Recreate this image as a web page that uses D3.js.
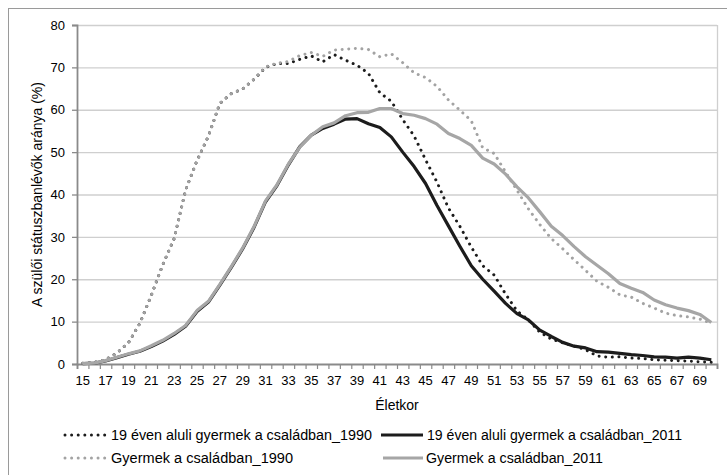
<!DOCTYPE html>
<html><head><meta charset="utf-8">
<script src="https://cdn.jsdelivr.net/npm/d3@7"></script>
<style>body{margin:0;background:#fff}svg{display:block}text{font-family:"Liberation Sans",Arial,sans-serif;fill:#000}</style>
</head><body><svg id="c" width="727" height="475"></svg>
<script>
const ages = d3.range(15, 71);
const xLabels = d3.range(15, 70, 2);
const yTicks = [0,10,20,30,40,50,60,70,80];
const seriesNames = ["19 éven aluli gyermek a családban_1990","19 éven aluli gyermek a családban_2011","Gyermek a családban_1990","Gyermek a családban_2011"];
const under19_1990 = [0.2,0.4,1.0,2.6,5.0,9.6,16.2,23.4,29.6,41.0,48.0,53.8,61.5,63.8,64.9,67.2,70.0,70.9,70.9,71.9,72.7,71.3,73.0,71.7,70.5,68.6,64.0,62.0,57.7,53.8,48.2,42.9,36.8,32.5,27.6,23.2,21.0,16.5,12.5,10.4,7.5,5.9,5.0,4.2,3.4,1.9,1.6,1.7,1.4,1.3,1.0,0.9,0.8,0.7,0.5,0.4];
const under19_2011 = [0.1,0.2,0.7,1.5,2.3,3.0,4.1,5.4,7.0,8.9,12.4,14.6,18.6,22.8,27.2,32.3,38.3,42.1,47.0,51.3,54.0,55.6,56.6,57.8,57.9,56.7,55.8,53.6,50.0,46.6,42.6,37.4,32.6,27.8,23.2,20.0,17.2,14.3,11.9,10.4,8.0,6.5,5.1,4.2,3.8,2.9,2.8,2.5,2.2,2.0,1.7,1.6,1.4,1.6,1.4,1.0];
const all_1990 = [0.2,0.4,1.0,2.6,5.0,9.6,16.2,23.4,29.6,41.0,48.0,53.8,61.5,63.8,64.9,67.2,70.1,71.0,71.4,72.8,73.5,72.6,74.1,74.3,74.5,74.2,72.5,73.2,71.1,68.7,67.6,65.5,62.3,59.9,57.4,51.0,49.7,45.3,41.0,36.6,32.9,29.6,27.2,24.6,22.1,19.5,18.1,16.3,15.8,14.3,13.2,12.0,11.4,11.1,10.6,9.6];
const all_2011 = [0.1,0.2,0.8,1.6,2.4,3.1,4.3,5.6,7.2,9.1,12.6,14.8,18.8,23.0,27.4,32.5,38.5,42.3,47.2,51.2,54.0,56.0,56.9,58.6,59.3,59.4,60.3,60.3,59.1,58.7,57.9,56.6,54.4,53.2,51.6,48.6,47.2,44.8,41.8,39.2,35.9,32.5,30.3,27.7,25.3,23.3,21.3,19.0,17.9,16.9,15.1,14.0,13.2,12.6,11.7,9.8];

const styles = [
  {color:"#1c1c1c", dash:true},
  {color:"#1c1c1c", dash:false},
  {color:"#a3a3a3", dash:true},
  {color:"#a6a6a6", dash:false}
];
const data = [under19_1990, under19_2011, all_1990, all_2011];

const svg = d3.select("#c");
svg.append("rect").attr("x",8.5).attr("y",8.5).attr("width",730).attr("height",480)
  .attr("fill","none").attr("stroke","#9a9a9a").attr("stroke-width",1);

const L=77, R=717, T=25, B=364;
const x = d3.scaleBand().domain(ages).range([L,R]).padding(0);
const xEdge = d3.scaleLinear().domain([15,71]).range([L,R]);
const y = d3.scaleLinear().domain([0,80]).range([B,T]);

// gridlines
svg.append("g").attr("transform",`translate(${L},0)`)
  .call(d3.axisLeft(y).tickValues(yTicks.slice(1)).tickSize(-(R-L)).tickFormat(""))
  .call(g=>{g.select(".domain").remove(); g.selectAll("line").attr("stroke","#cfcfcf").attr("stroke-width",1.3);});
// plot right border
svg.append("line").attr("x1",R+0.5).attr("x2",R+0.5).attr("y1",T).attr("y2",B).attr("stroke","#cfcfcf").attr("stroke-width",1.3);

// y axis
svg.append("g").attr("transform",`translate(${L},0)`)
  .call(d3.axisLeft(y).tickValues(yTicks).tickSize(5).tickPadding(7))
  .call(g=>{g.select(".domain").attr("stroke","#8a8a8a").attr("stroke-width",1.8);
    g.selectAll("line").attr("stroke","#8a8a8a").attr("stroke-width",1.3);
    g.selectAll("text").attr("font-size",13).attr("font-family","Liberation Sans, Arial");});

// x axis tick marks at boundaries
svg.append("g").attr("transform",`translate(0,${B})`)
  .call(d3.axisBottom(xEdge).tickValues(d3.range(15,72)).tickSize(5).tickFormat(""))
  .call(g=>{g.select(".domain").attr("stroke","#8a8a8a").attr("stroke-width",1.8);
    g.selectAll("line").attr("stroke","#8a8a8a").attr("stroke-width",1.2);});
// x labels
svg.append("g").attr("transform",`translate(0,${B})`)
  .call(d3.axisBottom(x).tickValues(xLabels).tickSize(0).tickPadding(12))
  .call(g=>{g.select(".domain").remove();
    g.selectAll("text").attr("font-size",13).attr("font-family","Liberation Sans, Arial");});

// lines
const line = d3.line().x((d,i)=>x(ages[i])+x.bandwidth()/2).y(d=>y(d));
data.forEach((vals,k)=>{
  const s = styles[k];
  const p = svg.append("path").datum(vals).attr("d",line).attr("fill","none")
    .attr("stroke",s.color).attr("stroke-linejoin","round");
  if(s.dash) p.attr("stroke-width",3).attr("stroke-dasharray","0.01 6.6").attr("stroke-linecap","round");
  else p.attr("stroke-width",3.2);
});

// axis titles
svg.append("text").attr("x",(L+R)/2).attr("y",410).attr("text-anchor","middle").attr("font-size",14).text("Életkor");
svg.append("text").attr("transform",`translate(42,${(T+B)/2}) rotate(-90)`).attr("text-anchor","middle")
  .attr("font-size",14).text("A szülői státuszbanlévők aránya (%)");

// legend
const legPos = [
  {sx:65, ex:106, tx:111, ty:435, w:261},
  {sx:381, ex:423, tx:427, ty:435, w:255},
  {sx:65, ex:106, tx:111, ty:458, w:182},
  {sx:383, ex:423, tx:426, ty:458, w:177}
];
seriesNames.forEach((name,k)=>{
  const s = styles[k], p = legPos[k];
  const ln = svg.append("line").attr("x1",p.sx).attr("x2",p.ex).attr("y1",p.ty).attr("y2",p.ty).attr("stroke",s.color);
  if(s.dash) ln.attr("stroke-width",3).attr("stroke-dasharray","0.01 6.6").attr("stroke-linecap","round");
  else ln.attr("stroke-width",3.2);
  svg.append("text").attr("x",p.tx).attr("y",p.ty).attr("dy","0.36em").attr("font-size",14)
    .attr("textLength",p.w).attr("lengthAdjust","spacingAndGlyphs").text(name);
});
</script></body></html>
